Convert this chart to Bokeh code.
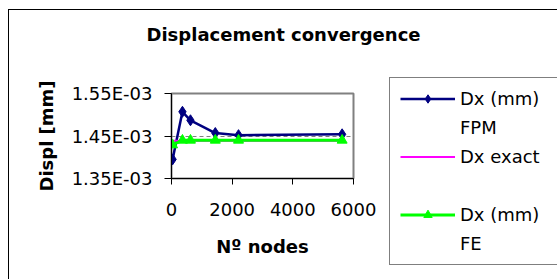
from bokeh.plotting import figure
from bokeh.models import (Range1d, FixedTicker, CustomJSTickFormatter, Legend, LegendItem, Title)
from bokeh.embed import file_html
from bokeh.resources import INLINE

# ---- data ----
nodes = [36, 361, 625, 1444, 2209, 5625]
dx_fpm = [1.395e-3, 1.507e-3, 1.487e-3, 1.457e-3, 1.452e-3, 1.454e-3]
dx_exact = [1.439e-3, 1.439e-3, 1.439e-3, 1.439e-3, 1.439e-3, 1.439e-3]
dx_fe = [1.429e-3, 1.440e-3, 1.440e-3, 1.440e-3, 1.440e-3, 1.440e-3]

x_ticks = [0, 2000, 4000, 6000]
y_ticks = [1.35e-3, 1.45e-3, 1.55e-3]
grid_ticks = [1.45e-3]

title_text = "Displacement convergence"
x_label = "Nº nodes"
y_label = "Displ [mm]"
legend_labels = ["Dx (mm)", "FPM", "Dx exact", " ", "Dx (mm)", "FE"]

FONT = "DejaVu Sans"
FS = "18px"
NAVY = "#000080"
MAGENTA = "#FF00FF"
GREEN = "#00FF00"

p = figure(width=548, height=269, output_backend="svg", toolbar_location=None,
           frame_width=182, frame_height=85,
           min_border_left=162, min_border_right=204, min_border_top=83, min_border_bottom=101,
           x_range=Range1d(0, 6000), y_range=Range1d(1.35e-3, 1.55e-3),
           background_fill_color="white", border_fill_color="white")
p.styles = {"margin-left": "8px", "margin-top": "9px",
            "border-left": "1px solid black", "border-top": "1px solid black"}
p.title = None

# title; bottom padding lifts the text away from the plot area
title = Title(text=title_text, text_font=FONT, text_font_size=FS, text_font_style="bold",
              align="left", offset=-25, standoff=10, text_color="black")
if "padding" in Title.properties():
    title.padding = {"left": 0, "right": 0, "top": 0, "bottom": 44}
p.add_layout(title, "above")

p.outline_line_color = "#808080"
p.outline_line_width = 2

xa = p.below[0]
ya = p.left[0]

# axes
for ax in (xa, ya):
    ax.axis_line_color = "black"
    ax.axis_line_width = 1
    ax.major_tick_line_color = "black"
    ax.major_tick_in = 0
    ax.minor_tick_line_color = None
    ax.major_label_text_font = FONT
    ax.major_label_text_font_size = FS
    ax.major_label_text_color = "black"
    ax.axis_label_text_font = FONT
    ax.axis_label_text_font_size = FS
    ax.axis_label_text_font_style = "bold"
    ax.axis_label_text_color = "black"

xa.ticker = FixedTicker(ticks=x_ticks)
xa.major_tick_out = 6
xa.major_label_standoff = 18
xa.axis_label = x_label
xa.axis_label_standoff = 17

ya.ticker = FixedTicker(ticks=y_ticks)
ya.major_tick_out = 7
ya.major_label_standoff = 12
ya.axis_label = y_label
ya.axis_label_standoff = 12
ya.formatter = CustomJSTickFormatter(code="""
const s = tick.toExponential(2);
const parts = s.split('e');
const n = parseInt(parts[1]);
return parts[0] + 'E' + (n < 0 ? '-' : '+') + String(Math.abs(n)).padStart(2, '0');
""")

p.xgrid.grid_line_color = None
p.ygrid.ticker = FixedTicker(ticks=grid_ticks)
p.ygrid.grid_line_color = "#808080"
p.ygrid.grid_line_dash = "4 3"
p.ygrid.grid_line_width = 1

# series
r_fpm_l = p.line(nodes, dx_fpm, line_color=NAVY, line_width=2.5)
r_fpm_m = p.scatter(nodes, dx_fpm, marker="diamond", size=11, fill_color=NAVY, line_color=NAVY)
r_exact = p.line(nodes, dx_exact, line_color=MAGENTA, line_width=2)
r_fe_l = p.line(nodes, dx_fe, line_color=GREEN, line_width=3)
r_fe_m = p.scatter(nodes, dx_fe, marker="triangle", size=10, fill_color=GREEN, line_color=GREEN)
r_blank = p.line([], [], line_alpha=0)

legend = Legend(
    items=[
        LegendItem(label=legend_labels[0], renderers=[r_fpm_l, r_fpm_m]),
        LegendItem(label=legend_labels[1], renderers=[r_blank]),
        LegendItem(label=legend_labels[2], renderers=[r_exact]),
        LegendItem(label=legend_labels[3], renderers=[r_blank]),
        LegendItem(label=legend_labels[4], renderers=[r_fe_l, r_fe_m]),
        LegendItem(label=legend_labels[5], renderers=[r_blank]),
    ],
    location=(36, -87), orientation="vertical",
    padding=10, margin=0, spacing=8,
    label_text_font=FONT, label_text_font_size=FS, label_text_color="black",
    label_height=21, glyph_height=21, glyph_width=55, label_standoff=5, label_width=100,
    border_line_color="black", border_line_width=1,
    background_fill_color="white", background_fill_alpha=1,
)
p.add_layout(legend, "right")

open("out.html", "w").write(file_html(p, INLINE))
